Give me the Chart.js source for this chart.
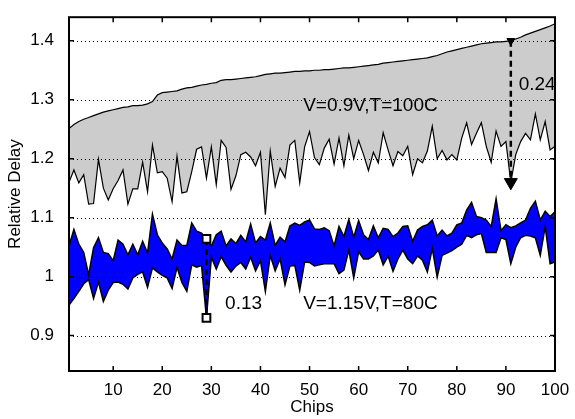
<!DOCTYPE html>
<html><head><meta charset="utf-8">
<script src="https://cdn.jsdelivr.net/npm/chart.js@4.4.0/dist/chart.umd.min.js"></script>
<style>html,body{margin:0;padding:0;background:#fff}canvas{display:block}</style>
</head><body>
<canvas id="c" width="575" height="419"></canvas>
<script>
const chips = [1,2,3,4,5,6,7,8,9,10,11,12,13,14,15,16,17,18,19,20,21,22,23,24,25,26,27,28,29,30,
31,32,33,34,35,36,37,38,39,40,41,42,43,44,45,46,47,48,49,50,51,52,53,54,55,56,57,58,59,60,
61,62,63,64,65,66,67,68,69,70,71,72,73,74,75,76,77,78,79,80,81,82,83,84,85,86,87,88,89,90,
91,92,93,94,95,96,97,98,99,100];

// V=0.9V, T=100C band
const grayTop = [1.251,1.258,1.263,1.267,1.270,1.273,1.276,1.279,1.281,1.283,
1.285,1.287,1.288,1.290,1.290,1.291,1.293,1.297,1.308,1.312,
1.313,1.314,1.315,1.318,1.320,1.321,1.323,1.325,1.326,1.328,
1.329,1.333,1.334,1.334,1.335,1.336,1.337,1.338,1.339,1.341,
1.343,1.344,1.345,1.345,1.346,1.347,1.348,1.348,1.349,1.349,
1.350,1.350,1.351,1.351,1.352,1.353,1.354,1.354,1.355,1.356,
1.357,1.358,1.359,1.360,1.362,1.363,1.364,1.365,1.366,1.367,
1.368,1.369,1.370,1.371,1.373,1.375,1.378,1.381,1.383,1.385,
1.387,1.389,1.391,1.393,1.395,1.396,1.397,1.398,1.398,1.399,
1.400,1.403,1.406,1.410,1.413,1.416,1.419,1.422,1.425,1.429];
const grayBottom = [1.160,1.181,1.159,1.173,1.123,1.124,1.199,1.150,1.130,1.149,
1.163,1.181,1.123,1.149,1.149,1.194,1.144,1.223,1.176,1.178,
1.167,1.127,1.204,1.142,1.144,1.178,1.216,1.220,1.167,1.220,
1.156,1.231,1.219,1.148,1.171,1.207,1.211,1.203,1.188,1.211,
1.105,1.213,1.153,1.184,1.168,1.223,1.231,1.159,1.220,1.246,
1.202,1.190,1.218,1.233,1.191,1.235,1.188,1.240,1.200,1.231,
1.207,1.180,1.211,1.193,1.244,1.215,1.188,1.212,1.205,1.221,
1.173,1.200,1.193,1.213,1.255,1.200,1.214,1.198,1.207,1.198,
1.235,1.261,1.224,1.243,1.261,1.221,1.194,1.247,1.221,1.229,
1.160,1.207,1.229,1.243,1.232,1.276,1.232,1.263,1.215,1.221];

// V=1.15V, T=80C band
const blueTop = [1.052,1.080,1.055,1.041,1.003,1.049,1.066,1.041,1.039,1.027,
1.062,1.055,1.037,1.055,1.037,1.060,1.040,1.106,1.071,1.057,
1.047,1.030,1.062,1.053,1.053,1.091,1.077,1.074,1.064,1.052,
1.071,1.077,1.052,1.064,1.056,1.070,1.059,1.089,1.057,1.068,
1.062,1.091,1.053,1.067,1.059,1.086,1.091,1.087,1.093,1.096,
1.081,1.080,1.083,1.078,1.052,1.085,1.068,1.097,1.067,1.095,
1.071,1.063,1.086,1.066,1.082,1.080,1.068,1.074,1.085,1.086,
1.060,1.079,1.085,1.088,1.096,1.069,1.079,1.069,1.074,1.088,
1.091,1.113,1.126,1.102,1.100,1.096,1.085,1.132,1.078,1.088,
1.083,1.086,1.091,1.096,1.116,1.128,1.096,1.111,1.102,1.110];
const blueBottom = [0.952,0.963,0.975,0.988,0.995,0.963,0.991,0.958,0.977,0.990,
0.991,0.987,0.979,0.998,1.004,1.008,0.982,1.015,1.008,1.002,
0.998,0.980,1.016,0.990,0.975,1.020,1.016,1.019,0.930,1.033,
1.013,1.034,1.019,1.008,1.018,1.024,1.013,1.033,1.010,1.027,
0.975,1.036,1.010,1.030,0.986,1.018,1.019,0.977,1.025,1.024,
1.018,1.020,1.022,1.022,1.022,1.005,1.011,1.045,0.998,1.042,
1.030,1.030,1.035,1.045,1.020,1.035,1.009,1.030,1.045,1.030,
1.022,1.035,1.028,1.008,1.048,0.999,1.036,1.040,1.044,1.050,
1.055,1.070,1.066,1.071,1.073,1.041,1.041,1.041,1.066,1.063,
1.022,1.050,1.066,1.070,1.069,1.066,1.036,1.085,1.022,1.025];

const xTickValues = [10,20,30,40,50,60,70,80,90,100];
const yTickValues = [0.9,1.0,1.1,1.2,1.3,1.4];
const yTickLabels = ['0.9','1','1.1','1.2','1.3','1.4'];

const grayGapChip = 91;
const blueGapChip = 29;

const annoTexts = ['0.24','V=0.9V,T=100C','0.13','V=1.15V,T=80C'];
const annoX = [92.6, 48.7, 32.8, 48.7];
const annoY = [1.326, 1.290, 0.954, 0.954];

const FONT = '"Liberation Sans", Arial, Helvetica, sans-serif';
Chart.defaults.font.family = FONT;
Chart.defaults.color = '#000';

function series(vals){ return chips.map((c,i)=>({x:c, y:vals[i]})); }
const gi = chips.indexOf(grayGapChip), bi = chips.indexOf(blueGapChip);

const framePlugin = {
  id:'frame',
  afterDatasetsDraw(chart){
    const {ctx, chartArea:a, scales:{y}} = chart;
    ctx.save();
    ctx.strokeStyle = '#000'; ctx.lineWidth = 1; ctx.setLineDash([1,3]);
    yTickValues.forEach(v=>{
      const py = Math.round(y.getPixelForValue(v)) + 0.5;
      ctx.beginPath(); ctx.moveTo(a.left, py); ctx.lineTo(a.right, py); ctx.stroke();
    });
    ctx.restore();
  },
  afterDraw(chart){
    const {ctx, chartArea:a, scales:{x,y}} = chart;
    ctx.save();
    ctx.strokeStyle = '#000'; ctx.lineWidth = 1.5;
    const tl = 5;
    xTickValues.forEach(v=>{
      const px = x.getPixelForValue(v);
      ctx.beginPath();
      ctx.moveTo(px, a.bottom); ctx.lineTo(px, a.bottom - tl);
      ctx.moveTo(px, a.top); ctx.lineTo(px, a.top + tl);
      ctx.stroke();
    });
    yTickValues.forEach(v=>{
      const py = y.getPixelForValue(v);
      ctx.beginPath();
      ctx.moveTo(a.left, py); ctx.lineTo(a.left + tl, py);
      ctx.moveTo(a.right, py); ctx.lineTo(a.right - tl, py);
      ctx.stroke();
    });
    ctx.lineWidth = 2;
    ctx.strokeRect(a.left, a.top, a.right - a.left, a.bottom - a.top);
    ctx.fillStyle = '#000';
    ctx.font = '19px ' + FONT;
    ctx.textAlign = 'left'; ctx.textBaseline = 'middle';
    annoTexts.forEach((t,i)=>{
      ctx.fillText(t, x.getPixelForValue(annoX[i]), y.getPixelForValue(annoY[i]));
    });
    ctx.restore();
  }
};

new Chart(document.getElementById('c'), {
  type:'line',
  data:{datasets:[
    {label:'gap09', data:[{x:grayGapChip,y:grayTop[gi]},{x:grayGapChip,y:grayBottom[gi]}],
      borderColor:'#000', borderWidth:2.5, borderDash:[6,4], pointStyle:'triangle', pointRotation:180,
      pointRadius:[4.5,7.5], pointBackgroundColor:'#000', pointBorderColor:'#000', pointBorderWidth:1, fill:false},
    {label:'gap115', data:[{x:blueGapChip,y:blueTop[bi]},{x:blueGapChip,y:blueBottom[bi]}],
      borderColor:'#000', borderWidth:2.5, borderDash:[6,4], pointStyle:'rect',
      pointRadius:5.5, pointBackgroundColor:'#fff', pointBorderColor:'#000', pointBorderWidth:2, fill:false},
    {label:'top09', data:series(grayTop), borderColor:'#000', borderWidth:1.2,
      backgroundColor:'rgb(204,204,204)', fill:'+1', pointRadius:0},
    {label:'bot09', data:series(grayBottom), borderColor:'#000', borderWidth:1.2, fill:false, pointRadius:0},
    {label:'top115', data:series(blueTop), borderColor:'#000', borderWidth:1.5,
      backgroundColor:'#0000ff', fill:'+1', pointRadius:0},
    {label:'bot115', data:series(blueBottom), borderColor:'#000', borderWidth:1.5, fill:false, pointRadius:0}
  ]},
  options:{
    responsive:false, animation:false, events:[],
    layout:{padding:{top:10,right:20,left:0,bottom:0}},
    plugins:{legend:{display:false}, tooltip:{enabled:false}, filler:{drawTime:'beforeDatasetsDraw'}},
    scales:{
      x:{type:'linear', min:1, max:100, grid:{display:false}, border:{display:false},
        afterBuildTicks(s){ s.ticks = xTickValues.map(v=>({value:v})); },
        afterFit(s){ s.height = 48; },
        ticks:{padding:1, maxRotation:0, autoSkip:false, font:{size:17}, callback:(v)=>String(v)},
        title:{display:true, text:'Chips', font:{size:17}, padding:{top:0,bottom:1}}},
      y:{type:'linear', min:0.84, max:1.44, grid:{display:false}, border:{display:false},
        afterBuildTicks(s){ s.ticks = yTickValues.map(v=>({value:v})); },
        afterFit(s){ s.width = 69; },
        ticks:{padding:7, font:{size:17}, callback:(v,i)=>yTickLabels[i]},
        title:{display:true, text:'Relative Delay', font:{size:17}, padding:{top:5,bottom:0}}}
    }
  },
  plugins:[framePlugin]
});
</script></body></html>
